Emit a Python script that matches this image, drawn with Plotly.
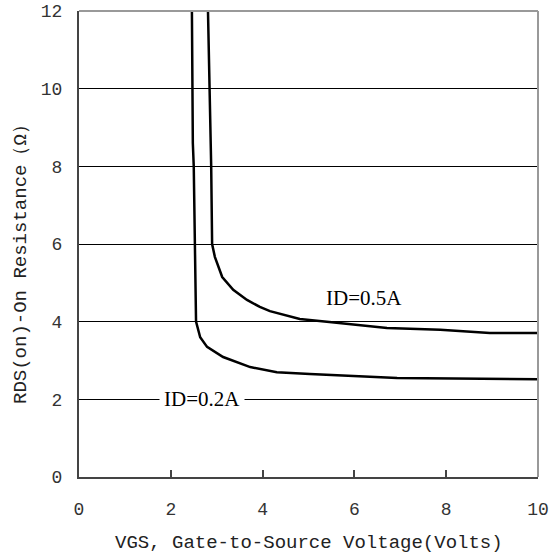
import plotly.graph_objects as go

# ID = 0.2 A curve
vgs_02 = [2.46, 2.47, 2.48, 2.50, 2.52, 2.55, 2.64, 2.79, 3.14, 3.73, 4.31, 5.03, 6.93, 8.89, 10.0]
rds_02 = [12.0, 10.0, 8.6, 8.0, 6.0, 4.0, 3.60, 3.35, 3.09, 2.83, 2.70, 2.65, 2.55, 2.52, 2.52]

# ID = 0.5 A curve
vgs_05 = [2.81, 2.85, 2.88, 2.90, 2.96, 3.12, 3.36, 3.66, 3.94, 4.16, 4.81, 5.40, 6.71, 7.87, 8.95, 10.0]
rds_05 = [12.0, 10.0, 8.0, 6.0, 5.67, 5.15, 4.82, 4.56, 4.38, 4.27, 4.07, 4.00, 3.84, 3.79, 3.71, 3.71]

x_ticks = [0, 2, 4, 6, 8, 10]
y_ticks = [0, 2, 4, 6, 8, 10, 12]

x_title = "VGS, Gate-to-Source Voltage(Volts)"
y_title = "RDS(on)-On Resistance（Ω）"
label_02 = "ID=0.2A"
label_05 = "ID=0.5A"

mono = "Liberation Mono"
serif = "Liberation Serif"

fig = go.Figure()
fig.add_trace(go.Scatter(x=vgs_02, y=rds_02, mode="lines",
                         line=dict(color="black", width=2.5), showlegend=False))
fig.add_trace(go.Scatter(x=vgs_05, y=rds_05, mode="lines",
                         line=dict(color="black", width=2.5), showlegend=False))

fig.update_layout(
    width=552, height=560,
    margin=dict(l=79, r=14, t=11, b=83, autoexpand=False),
    paper_bgcolor="white", plot_bgcolor="white",
    xaxis=dict(range=[0, 10], tickvals=x_ticks, ticktext=[str(v) for v in x_ticks],
               showgrid=False, zeroline=False, automargin=False,
               showline=True, linecolor="#444444", linewidth=2,
               ticks="inside", ticklen=7, tickwidth=1.5, tickcolor="#444444",
               tickfont=dict(family=mono, size=18, color="#333333"),
               ticklabelstandoff=14, ticklabeloverflow="allow"),
    yaxis=dict(range=[0, 12], tickvals=y_ticks, ticktext=[str(v) for v in y_ticks],
               showgrid=True, gridcolor="black", gridwidth=1, zeroline=False,
               automargin=False,
               showline=True, linecolor="#444444", linewidth=2,
               ticks="", tickfont=dict(family=mono, size=18, color="#333333"),
               ticklabelstandoff=11, ticklabeloverflow="allow"),
    shapes=[
        dict(type="line", xref="paper", yref="paper", x0=0, x1=1, y0=1, y1=1,
             line=dict(color="#999999", width=2)),
        dict(type="line", xref="paper", yref="paper", x0=1, x1=1, y0=0, y1=1,
             line=dict(color="#999999", width=2)),
    ],
    annotations=[
        dict(x=2.68, y=2, xref="x", yref="y", text=label_02, showarrow=False,
             font=dict(family=serif, size=21, color="black"), bgcolor="white",
             borderpad=4),
        dict(x=6.21, y=4.61, xref="x", yref="y", text=label_05, showarrow=False,
             font=dict(family=serif, size=21, color="black")),
        dict(x=0.5, y=-0.142, xref="paper", yref="paper", text=x_title, showarrow=False,
             xanchor="center", yanchor="middle",
             font=dict(family=mono, size=19, color="#222222")),
        dict(x=-0.126, y=0.466, xref="paper", yref="paper", text=y_title, showarrow=False,
             textangle=-90, xanchor="center", yanchor="middle",
             font=dict(family=mono, size=19, color="#222222")),
    ],
)

fig.write_html("out.html", config={"displayModeBar": False},
               post_script="document.body.style.margin='0';")
